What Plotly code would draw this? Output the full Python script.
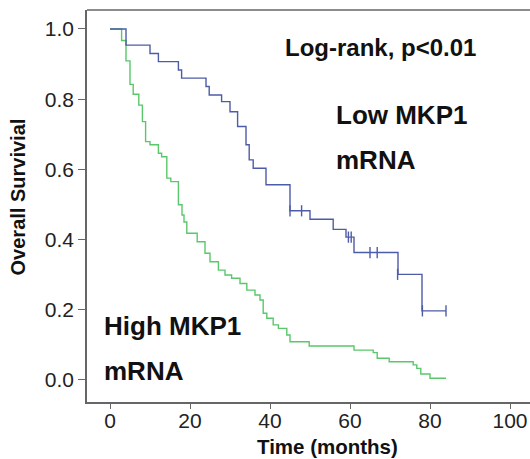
import plotly.graph_objects as go

# Low MKP1 mRNA (blue)
low_times = [0, 4, 10, 12.1, 17.1, 17.9, 24, 24.8, 27.9, 30, 31.9, 34, 34.8, 35.8,
             39, 45, 50, 55.8, 59, 61, 72, 78, 84]
low_surv = [1.0, 0.954, 0.93, 0.907, 0.883, 0.86, 0.836, 0.812, 0.793, 0.764, 0.722,
            0.67, 0.627, 0.603, 0.556, 0.482, 0.458, 0.429, 0.407, 0.363, 0.301,
            0.197, 0.197]
low_cens_t = [45, 47.9, 59.6, 60.3, 65, 66.8, 71.9, 78.1, 84]
low_cens_s = [0.482, 0.482, 0.407, 0.407, 0.363, 0.363, 0.301, 0.197, 0.197]

# High MKP1 mRNA (green)
high_times = [0, 2.9, 4, 5, 5.8, 7.2, 8.1, 8.9, 10, 12.1, 12.9, 14.2, 15.2, 17.1,
              18, 18.5, 19.2, 21.8, 23.75, 25, 27.1, 28.75, 30.4, 32.5, 34.2, 36.25,
              37.5, 38.3, 39.2, 40.8, 42.1, 44.2, 45, 49.8, 61, 65.8, 66.8, 69.8,
              75.8, 76.7, 77.7, 80, 84]
high_surv = [1.0, 0.967, 0.909, 0.842, 0.814, 0.783, 0.736, 0.679, 0.670, 0.646,
             0.636, 0.575, 0.565, 0.499, 0.47, 0.45, 0.418, 0.394, 0.361, 0.337,
             0.313, 0.299, 0.290, 0.275, 0.256, 0.242, 0.228, 0.190, 0.176, 0.157,
             0.147, 0.128, 0.109, 0.097, 0.085, 0.078, 0.062, 0.052, 0.043, 0.033,
             0.017, 0.005, 0.005]

x_ticks = [0, 20, 40, 60, 80, 100]
y_ticks = [0.0, 0.2, 0.4, 0.6, 0.8, 1.0]
y_tick_labels = ["0.0", "0.2", "0.4", "0.6", "0.8", "1.0"]

BLUE = "#4d5ca8"
GREEN = "#5ac86a"
AXIS = "#666666"
FONT = "Liberation Sans, Arial, sans-serif"

fig = go.Figure()
fig.add_trace(go.Scatter(x=high_times, y=high_surv, mode="lines",
                         line=dict(shape="hv", color=GREEN, width=1.4),
                         showlegend=False, hoverinfo="skip"))
fig.add_trace(go.Scatter(x=low_times, y=low_surv, mode="lines",
                         line=dict(shape="hv", color=BLUE, width=1.4),
                         showlegend=False, hoverinfo="skip"))
fig.add_trace(go.Scatter(x=low_cens_t, y=low_cens_s, mode="markers",
                         marker=dict(symbol="line-ns", size=8,
                                     line=dict(color=BLUE, width=1.4)),
                         showlegend=False, hoverinfo="skip"))

ann_font = dict(family=FONT, size=26, color="#111111")
annotations = [
    dict(x=43.3, y=0.946, text="<b>Log-rank, p<0.01</b>",
         font=dict(family=FONT, size=24, color="#111111")),
    dict(x=56.0, y=0.755, text="<b>Low MKP1</b>", font=ann_font),
    dict(x=56.0, y=0.627, text="<b>mRNA</b>", font=ann_font),
    dict(x=-2.0, y=0.154, text="<b>High MKP1</b>", font=ann_font),
    dict(x=-2.0, y=0.027, text="<b>mRNA</b>", font=ann_font),
]
for a in annotations:
    a.update(xref="x", yref="y", xanchor="left", yanchor="middle", showarrow=False)

# axis titles
annotations.append(dict(x=54.4, xref="x", y=0, yref="paper", yshift=-44,
                        xanchor="center", yanchor="middle", showarrow=False,
                        text="<b>Time (months)</b>",
                        font=dict(family=FONT, size=20.5, color="#111111")))
annotations.append(dict(x=0, xref="paper", xshift=-69, y=0.52, yref="y",
                        xanchor="center", yanchor="middle", showarrow=False,
                        textangle=-90, text="<b>Overall Survivial</b>",
                        font=dict(family=FONT, size=20, color="#111111")))

fig.update_layout(
    width=530, height=459,
    margin=dict(l=87, r=0, t=10, b=57),
    plot_bgcolor="white", paper_bgcolor="white",
    font=dict(family=FONT, color="#111111"),
    annotations=annotations,
    hovermode=False,
    shapes=[dict(type="line", xref="paper", yref="paper", x0=0, x1=1, y0=1, y1=1,
                 line=dict(color=AXIS, width=1.5))],
)
fig.update_xaxes(range=[-5.75, 105], tickvals=x_ticks, ticks="outside", ticklen=5,
                 tickcolor=AXIS, showline=True, linecolor=AXIS, linewidth=1.5,
                 showgrid=False, zeroline=False, ticklabelstandoff=-6,
                 tickfont=dict(size=21, family=FONT, color="#222222"))
fig.update_yaxes(range=[-0.0627, 1.054], tickvals=y_ticks, ticktext=y_tick_labels,
                 ticks="outside", ticklen=7, tickcolor=AXIS, showline=True,
                 linecolor=AXIS, linewidth=1.5, showgrid=False, zeroline=False,
                 tickfont=dict(size=21, family=FONT, color="#222222"))

fig.write_html("out.html", config={"displayModeBar": False},
               post_script="document.body.style.margin='0';document.body.style.overflow='hidden';")
